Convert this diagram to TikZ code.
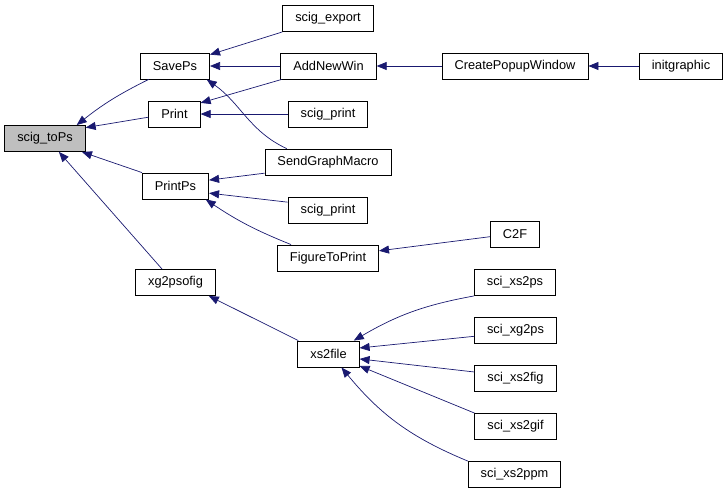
\documentclass[tikz,border=0pt]{standalone}
\usepackage{fontspec}
\setmainfont{Liberation Sans}
\usepackage{tikz}
\usetikzlibrary{arrows.meta,positioning}
\definecolor{edgeblue}{HTML}{191970}

\begin{document}
\begin{tikzpicture}[
    x=1pt, y=1pt,
    box/.style={draw, line width=0.9pt, inner xsep=12.5pt, inner ysep=0pt, minimum height=26pt, font=\fontsize{12.8}{14}\selectfont},
    current/.style={box, fill=black!25},
    arrow/.style={-{Triangle[length=10pt,width=8pt]}, draw=edgeblue, line width=0.7pt}
]
\useasboundingbox (0,0) rectangle (727,-490);

\node[current] (toPs) at (45,-138.5) {scig\_toPs};

\node[box] (savePs) at (175,-66) {SavePs};
\node[box] (print) at (174.5,-114) {Print};
\node[box] (printPs) at (175.5,-186) {PrintPs};
\node[box] (xg2psofig) at (175.5,-282.5) {xg2psofig};

\node[box] (export) at (328,-18.5) {scig\_export};
\node[box] (addWin) at (328.5,-66) {AddNewWin};
\node[box] (printA) at (328,-114) {scig\_print};
\node[box] (sendMacro) at (328,-162) {SendGraphMacro};
\node[box] (printB) at (328,-210) {scig\_print};
\node[box] (figPrint) at (328,-258) {FigureToPrint};
\node[box] (xs2file) at (328.5,-354) {xs2file};

\node[box] (popup) at (515,-66) {CreatePopupWindow};
\node[box] (c2f) at (515,-234.5) {C2F};
\node[box] (xs2ps) at (515,-282.5) {sci\_xs2ps};
\node[box] (xg2ps) at (515.5,-330.5) {sci\_xg2ps};
\node[box] (xs2fig) at (515.5,-378.5) {sci\_xs2fig};
\node[box] (xs2gif) at (515.5,-426.5) {sci\_xs2gif};
\node[box] (xs2ppm) at (514.5,-474.5) {sci\_xs2ppm};

\node[box] (initg) at (681,-66) {initgraphic};

\draw[arrow] (savePs.207) to[bend right=6] (toPs.23);
\draw[arrow] (print.187) -- (toPs.15);
\draw[arrow] (printPs.north west) -- (toPs.-20);
\draw[arrow] (xg2psofig.135) -- (toPs.-44);
\draw[arrow] (export.south west) -- (savePs.18);
\draw[arrow] (addWin) -- (savePs);
\draw[arrow] (addWin.196) -- (print.23);
\draw[arrow] (printA) -- (print);
\draw[arrow] (sendMacro.162) to[out=155, in=-35] (savePs.-23);
\draw[arrow] (sendMacro.190) -- (printPs.10);
\draw[arrow] (printB.169) -- (printPs.-12);
\draw[arrow] (figPrint.160) to[bend left=6] (printPs.-24);
\draw[arrow] (c2f.185) -- (figPrint.8);
\draw[arrow] (popup) -- (addWin);
\draw[arrow] (initg) -- (popup);
\draw[arrow] (xs2file.156) -- (xg2psofig.-22);
\draw[arrow] (xs2ps.south west) to[bend right=10] (xs2file.28);
\draw[arrow] (xg2ps.188) -- (xs2file.11);
\draw[arrow] (xs2fig.171) -- (xs2file.-9);
\draw[arrow] (xs2gif.north west) -- (xs2file.-21);
\draw[arrow] (xs2ppm.north west) to[bend left=14] (xs2file.-46);
\end{tikzpicture}
\end{document}
